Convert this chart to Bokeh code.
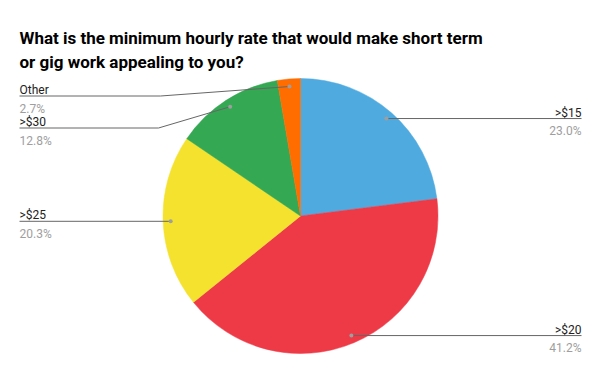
import math
from bokeh.plotting import figure
from bokeh.models import Range1d, ColumnDataSource
from bokeh.core.properties import value
from bokeh.embed import file_html
from bokeh.resources import INLINE

# ---- data ----
categories = [">$15", ">$20", ">$25", ">$30", "Other"]
shares = [23.0, 41.2, 20.3, 12.8, 2.7]
colors = ["#4FAAE0", "#EE3A46", "#F4E22F", "#35A853", "#FF6D01"]
title_lines = ["What is the minimum hourly rate that would make short term",
               "or gig work appealing to you?"]

W, H = 600, 371
p = figure(width=W, height=H, output_backend="svg", toolbar_location=None,
           x_range=Range1d(0, W), y_range=Range1d(0, H), min_border=0,
           outline_line_color=None)
p.axis.visible = False
p.grid.visible = False

def Y(y):  # pixel-from-top -> data y
    return H - y

cx, cy, r = 300, 215.5, 137.5
total = sum(shares)
starts, ends, mids = [], [], []
acc = 0.0
for v in shares:
    a0 = math.pi / 2 - 2 * math.pi * acc / total
    a1 = math.pi / 2 - 2 * math.pi * (acc + v) / total
    starts.append(a0); ends.append(a1)
    mids.append((a0 + a1) / 2)
    acc += v

src = ColumnDataSource(dict(start=starts, end=ends, color=colors))
p.wedge(x=cx, y=Y(cy), radius=r, start_angle="start", end_angle="end",
        direction="clock", fill_color="color", line_color="color", line_width=0.5,
        source=src)

# leader dots
dr = 0.945 * r
dots_x = [cx + dr * math.cos(m) for m in mids]
dots_y = [cy - dr * math.sin(m) for m in mids]

# label layout: (side, line_y, bend_x)
layout = {
    ">$15": ("right", None, None),
    ">$20": ("right", None, None),
    ">$25": ("left", None, None),
    ">$30": ("left", 127.5, 158),
    "Other": ("left", 95.5, 160),
}
LX, RX = 19, 581
lab_x, lab_y, lab_t, lab_a = [], [], [], []
pct_x, pct_y, pct_t, pct_a = [], [], [], []
for i, c in enumerate(categories):
    side, ly, bx = layout[c]
    dx, dy = dots_x[i], dots_y[i]
    if ly is None:
        ly = dy
    if side == "right":
        xs = [dx, RX]; ys = [ly, ly]
        tx, al = RX, "right"
    else:
        if bx is None:
            xs = [LX, dx]; ys = [ly, ly]
        else:
            xs = [LX, bx, dx]; ys = [ly, ly, dy]
        tx, al = LX, "left"
    p.line([x for x in xs], [Y(y) for y in ys], line_color="#666666", line_width=1)
    lab_x.append(tx); lab_y.append(Y(ly - 6)); lab_t.append(c); lab_a.append(al)
    pct_x.append(tx); pct_y.append(Y(ly + 12.5)); pct_t.append(f"{shares[i]:.1f}%"); pct_a.append(al)

p.scatter([x for x in dots_x], [Y(y) for y in dots_y], size=4, marker="circle",
          fill_color="#9E9E9E", line_color=None)

p.text(x=lab_x, y=lab_y, text=lab_t, text_align=lab_a, text_baseline="alphabetic",
       text_font=value("Roboto"), text_font_size="12px", text_color="#222222")
p.text(x=pct_x, y=pct_y, text=pct_t, text_align=pct_a, text_baseline="alphabetic",
       text_font=value("Roboto"), text_font_size="12px", text_color="#9E9E9E")

p.text(x=[19, 19], y=[Y(37), Y(61.5)], text=title_lines, text_align="left",
       text_baseline="alphabetic", text_font=value("Roboto"), text_font_style="bold",
       text_font_size="17px", text_color="#000000")

open("out.html", "w").write(file_html(p, INLINE))
